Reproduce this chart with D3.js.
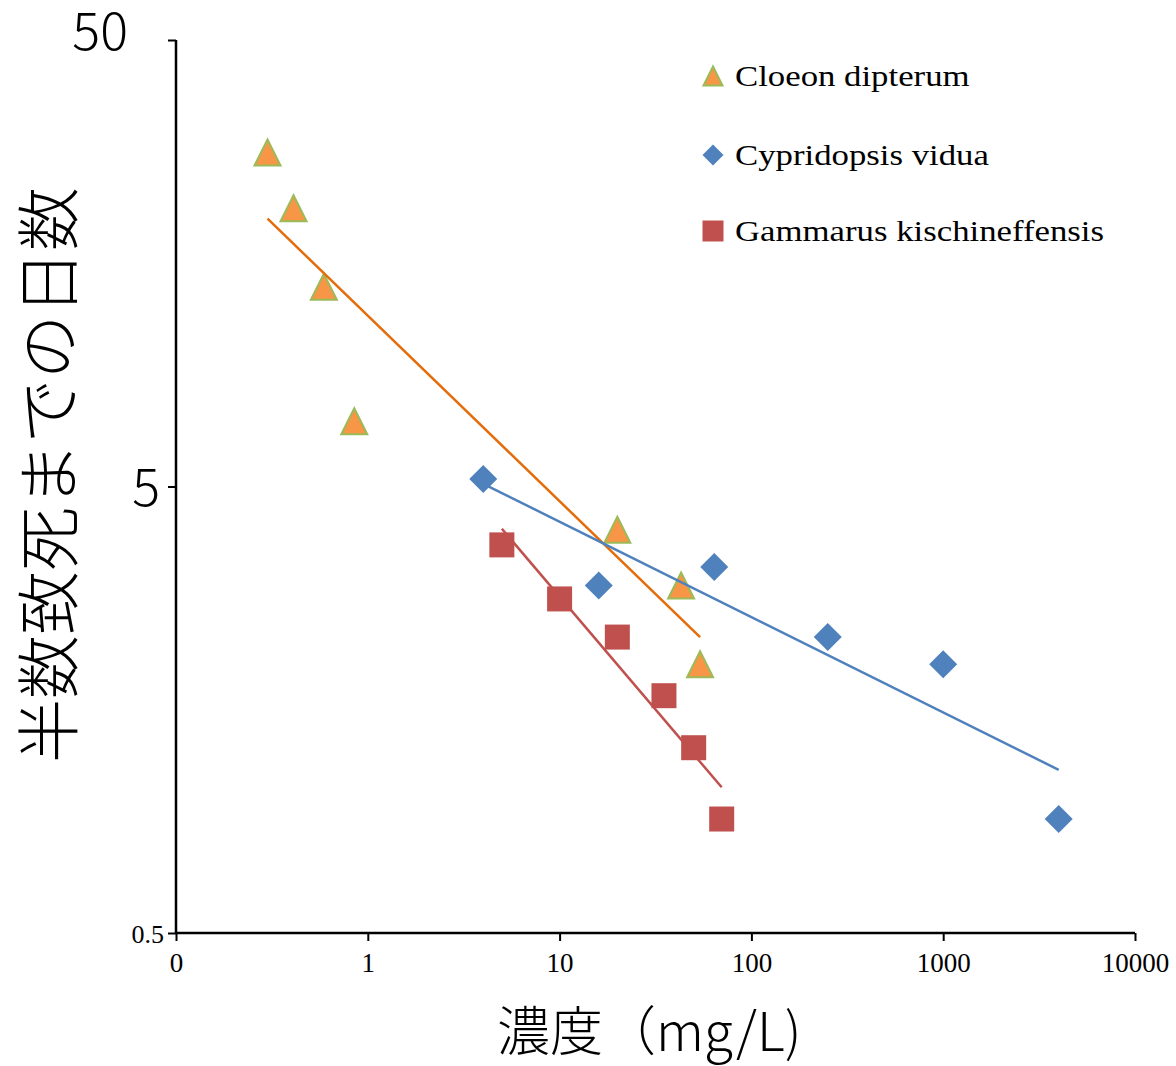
<!DOCTYPE html>
<html>
<head>
<meta charset="utf-8">
<script src="https://cdn.jsdelivr.net/npm/d3@7"></script>
<style>
  html, body { margin: 0; padding: 0; background: #fff; }
  svg { display: block; }
</style>
</head>
<body>
<div id="chart"></div>
<script>
// series: [concentration mg/L, days to 50% mortality]
const cloeonX = [0.3, 0.41, 0.59, 0.85, 20, 43, 54];
const cloeonY = [28, 21, 14, 7.0, 4.0, 3.0, 2.0];
const cypridX = [4, 16, 64, 250, 1000, 4000];
const cypridY = [5.2, 3.0, 3.3, 2.3, 2.0, 0.9];
const gammarX = [5, 10, 20, 35, 50, 70];
const gammarY = [3.7, 2.8, 2.3, 1.7, 1.3, 0.9];

// trend line end points
const cloeonTrend = [[0.3, 19.9], [54, 2.3]];
const cypridTrend = [[4, 5.07], [4000, 1.16]];
const gammarTrend = [[5, 4.02], [70, 1.06]];

const seriesNames = ['Cloeon dipterum', 'Cypridopsis vidua', 'Gammarus kischineffensis'];
const xTicks = [0.1, 1, 10, 100, 1000, 10000];
const xTickLabels = ['0', '1', '10', '100', '1000', '10000'];
const yTicks = [0.5, 5, 50];
const yTickLabels = ['0.5', '5', '50'];
const yTitle = '半数致死までの日数';
const xTitle = '濃度（mg/L)';

const width = 1176, height = 1066;
const serif = '"Liberation Serif", "Times New Roman", serif';
const gothic = '"Noto Sans CJK JP", "Noto Sans", sans-serif';

const x = d3.scaleLog().domain([0.1, 10000]).range([176, 1135]);
const y = d3.scaleLog().domain([0.5, 50]).range([933, 40]);

const svg = d3.select('#chart').append('svg')
  .attr('width', width).attr('height', height);

// markers, centred on their bounding box like the original
const triPath = s => { const h = s / 2; return `M0,${-h}L${h},${h}L${-h},${h}Z`; };
const diamondPath = s => { const h = s / 2; return `M0,${-h}L${h},0L0,${h}L${-h},0Z`; };
const squarePath = s => { const h = s / 2; return `M${-h},${-h}H${h}V${h}H${-h}Z`; };

const styles = [
  { shape: triPath, fill: '#F79646', stroke: '#9BBB59', sw: 2, line: '#E46C0A' },
  { shape: diamondPath, fill: '#4F81BD', stroke: 'none', sw: 0, line: '#4F81BD' },
  { shape: squarePath, fill: '#C0504D', stroke: 'none', sw: 0, line: '#C0504D' }
];
const sizes = [26, 28, 25];

// axes
const yAxis = svg.append('g').attr('transform', 'translate(176,0)')
  .call(d3.axisLeft(y).tickValues(yTicks).tickSize(8).tickFormat((d, i) => yTickLabels[i]));
const xAxis = svg.append('g').attr('transform', 'translate(0,933)')
  .call(d3.axisBottom(x).tickValues(xTicks).tickSize(8).tickFormat((d, i) => xTickLabels[i]));

[yAxis, xAxis].forEach(a => {
  a.select('.domain').attr('stroke', '#000').attr('stroke-width', 2.5);
  a.selectAll('.tick line').attr('stroke', '#000').attr('stroke-width', 2);
});
yAxis.select('.domain').attr('d', `M0,${y(50)}V${y(0.5)}`);
xAxis.select('.domain').attr('d', `M${x(0.1)},0H${x(10000)}`);

xAxis.selectAll('.tick text')
  .attr('font-family', serif).attr('font-size', 27).attr('fill', '#000')
  .attr('y', 18).attr('dy', '0.78em');

yAxis.selectAll('.tick text').each(function (d) {
  const t = d3.select(this).attr('fill', '#000');
  if (d === 0.5) {
    t.attr('font-family', serif).attr('font-size', 26).attr('x', -12).attr('dy', '0.36em');
  } else {
    t.attr('font-family', gothic).attr('font-weight', 300).attr('font-size', 52)
      .attr('x', d === 50 ? -48 : -16).attr('dy', d === 50 ? '0.18em' : '0.36em');
  }
});

// points
const sets = [[cloeonX, cloeonY], [cypridX, cypridY], [gammarX, gammarY]];
const trends = [cloeonTrend, cypridTrend, gammarTrend];

sets.forEach(([xs, ys], i) => {
  const st = styles[i];
  svg.append('g').selectAll('path')
    .data(xs.map((v, j) => [v, ys[j]]))
    .join('path')
    .attr('transform', d => `translate(${x(d[0])},${y(d[1])})`)
    .attr('d', st.shape(sizes[i]))
    .attr('fill', st.fill)
    .attr('stroke', st.stroke)
    .attr('stroke-width', st.sw);
});

const lineGen = d3.line().x(d => x(d[0])).y(d => y(d[1]));
trends.forEach((t, i) => {
  svg.append('path').datum(t)
    .attr('d', lineGen)
    .attr('fill', 'none')
    .attr('stroke', styles[i].line)
    .attr('stroke-width', 2.5);
});

// legend
const legendY = [76, 155, 231];
const legendBase = [86, 165, 241];
seriesNames.forEach((name, i) => {
  const st = styles[i];
  svg.append('path')
    .attr('transform', `translate(713,${legendY[i]})`)
    .attr('d', st.shape(i === 0 ? 19 : 21))
    .attr('fill', st.fill).attr('stroke', st.stroke).attr('stroke-width', st.sw);
  svg.append('text')
    .attr('transform', `translate(735,${legendBase[i]}) scale(1.14,1)`)
    .attr('font-family', serif).attr('font-size', 30.5).attr('fill', '#000')
    .text(name);
});

// axis titles
svg.append('text')
  .attr('transform', 'translate(72,475) rotate(-90)')
  .attr('text-anchor', 'middle')
  .attr('font-family', gothic).attr('font-weight', 300).attr('font-size', 64)
  .attr('fill', '#000')
  .text(yTitle);

svg.append('text')
  .attr('x', 497).attr('y', 1051)
  .attr('font-family', gothic).attr('font-weight', 300).attr('font-size', 53)
  .attr('fill', '#000')
  .text(xTitle);
</script>
</body>
</html>
